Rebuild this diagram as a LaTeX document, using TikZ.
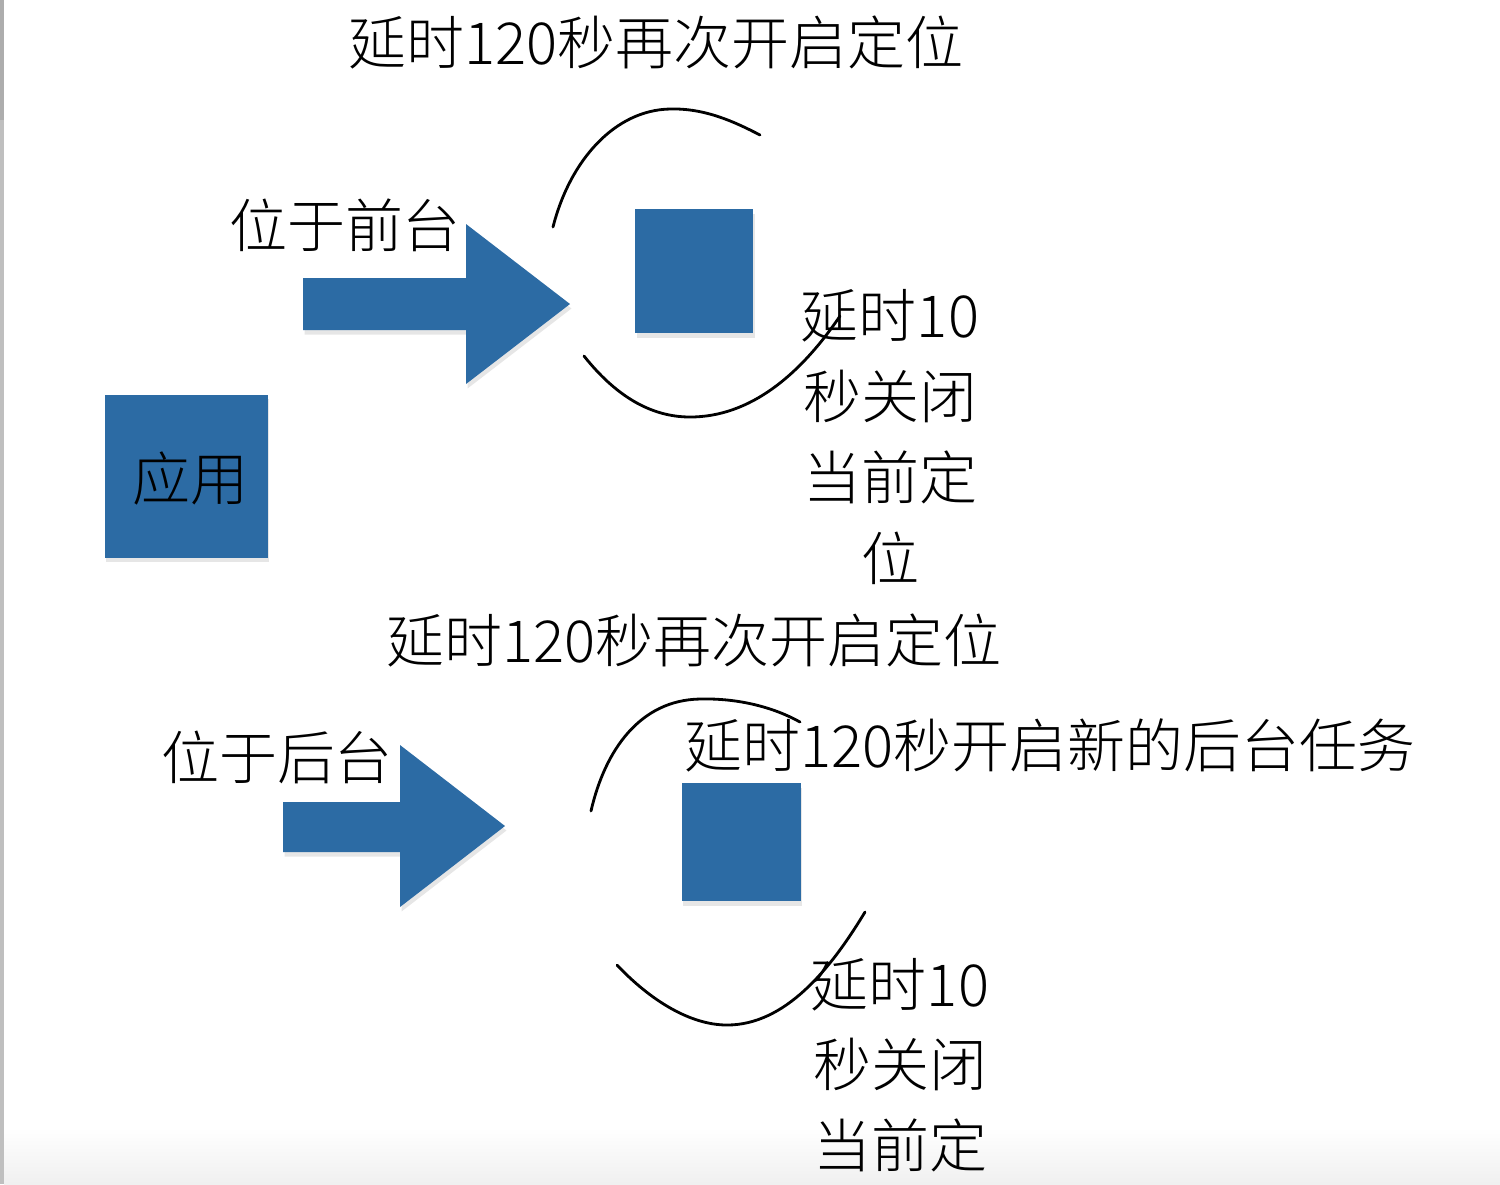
\documentclass[tikz,border=0pt]{standalone}
\usepackage{fontspec}
\setmainfont{Noto Sans CJK SC}[UprightFont={* Light}]
\usetikzlibrary{shadows}

\definecolor{appblue}{RGB}{44,107,164}

\tikzset{
  box/.style={fill=appblue, inner sep=0pt,
    drop shadow={shadow xshift=0.15mm, shadow yshift=-0.45mm, opacity=0.2}},
  bigarrow/.style={fill=appblue,
    drop shadow={shadow xshift=0.15mm, shadow yshift=-0.45mm, opacity=0.2}},
  lbl/.style={inner sep=0pt, font=\fontsize{16.5}{23}\selectfont, align=center},
  curve/.style={thick, line cap=round}
}

\begin{document}
\begin{tikzpicture}[x=0.1mm, y=-0.1mm]
  \useasboundingbox (0,0) rectangle (1500,1184);
  % window edge and bottom fade
  \fill[black!25] (0,0) rectangle (4,1184);
  \fill[black!32] (0,0) rectangle (4,120);
  \shade[top color=white, bottom color=black!6] (4,1128) rectangle (1500,1184);

  % the app
  \node[box, minimum width=1.63cm, minimum height=1.63cm] (app) at (186,476) {};
  \node[lbl] (applbl) at (190,478) {应用};

  % foreground case
  \node[lbl] (fgtitle) at (656,42) {延时120秒再次开启定位};
  \node[lbl] (fglbl) at (345,225) {位于前台};
  \fill[bigarrow] (303,278) -- (466,278) -- (466,224) -- (570,304)
    -- (466,384) -- (466,330) -- (303,330) -- cycle;
  \node[box, minimum width=1.18cm, minimum height=1.24cm] (fgbox) at (694,271) {};
  \draw[curve] (553,227) .. controls (570,160) and (615,110) .. (670,109)
    .. controls (705,108) and (735,122) .. (760,135);
  \draw[curve] (584,356) .. controls (615,395) and (650,417) .. (690,417)
    .. controls (750,417) and (800,375) .. (840,316);
  \node[lbl] (fgclose) at (890,437) {延时10\\秒关闭\\当前定\\位};

  % background case
  \node[lbl] (bgtitle) at (694,640) {延时120秒再次开启定位};
  \node[lbl] (bgtask) at (1050,745) {延时120秒开启新的后台任务};
  \node[lbl] (bglbl) at (277,757) {位于后台};
  \fill[bigarrow] (283,802) -- (400,802) -- (400,745) -- (505,826)
    -- (400,907) -- (400,852) -- (283,852) -- cycle;
  \node[box, minimum width=1.19cm, minimum height=1.18cm] (bgbox) at (741,842) {};
  \draw[curve] (591,811) .. controls (605,750) and (640,700) .. (700,699)
    .. controls (740,698) and (775,708) .. (800,722);
  \draw[curve] (617,965) .. controls (650,1000) and (690,1025) .. (727,1025)
    .. controls (785,1025) and (830,970) .. (865,912);
  \node[lbl] (bgclose) at (900,1065) {延时10\\秒关闭\\当前定};
\end{tikzpicture}
\end{document}
